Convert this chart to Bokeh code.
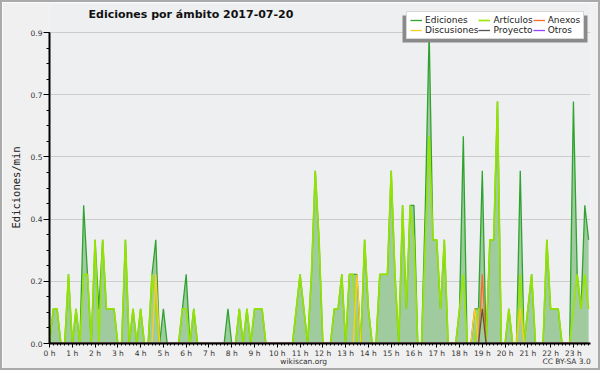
import math
from bokeh.plotting import figure
from bokeh.layouts import column
from bokeh.models import (FixedTicker, PrintfTickFormatter, Legend, LegendItem,
                          Label, Range1d, BoxAnnotation, LinearAxis, Title)
from bokeh.embed import file_html
from bokeh.resources import INLINE

# one value per 10-minute slot (edits per minute), 00:00 .. 23:40
ediciones = [
    0, 0.1, 0.1, 0, 0, 0.2,        # 0 h
    0, 0.1, 0, 0.4, 0.2, 0,        # 1 h
    0.3, 0.1, 0.3, 0.1, 0.1, 0.1,  # 2 h
    0, 0, 0.3, 0, 0.1, 0,          # 3 h
    0.1, 0, 0, 0.2, 0.3, 0,        # 4 h
    0.1, 0, 0, 0, 0, 0.1,          # 5 h
    0.2, 0, 0.1, 0, 0, 0,          # 6 h
    0, 0, 0, 0, 0, 0.1,            # 7 h
    0, 0, 0.1, 0, 0.1, 0,          # 8 h
    0.1, 0.1, 0.1, 0, 0, 0,        # 9 h
    0, 0, 0, 0, 0, 0.1,            # 10 h
    0.2, 0.1, 0, 0.2, 0.5, 0.3,    # 11 h
    0, 0, 0, 0.1, 0.1, 0.2,        # 12 h
    0, 0.2, 0.2, 0.2, 0, 0.3,      # 13 h
    0.1, 0, 0, 0.2, 0.2, 0.2,      # 14 h
    0.5, 0.2, 0, 0.4, 0.1, 0.4,    # 15 h
    0.4, 0, 0, 0.4, 0.9, 0.3,      # 16 h
    0.3, 0.1, 0.3, 0, 0, 0,        # 17 h
    0.1, 0.6, 0, 0, 0.1, 0.1,      # 18 h
    0.5, 0, 0.3, 0.3, 0.7, 0,      # 19 h
    0, 0.1, 0, 0, 0.5, 0,          # 20 h
    0.1, 0.2, 0, 0, 0, 0.3,        # 21 h
    0.1, 0.1, 0.1, 0, 0, 0,        # 22 h
    0.7, 0.2, 0.1, 0.4, 0.3,       # 23 h
]
articulos = [
    0, 0.1, 0.1, 0, 0, 0.2,
    0, 0.1, 0, 0.2, 0.2, 0,
    0.3, 0, 0.3, 0.1, 0.1, 0.1,
    0, 0, 0.3, 0, 0.1, 0,
    0.1, 0, 0, 0.2, 0.1, 0,
    0, 0, 0, 0, 0, 0.1,
    0.1, 0, 0.1, 0, 0, 0,
    0, 0, 0, 0, 0, 0,
    0, 0, 0.1, 0, 0.1, 0,
    0.1, 0.1, 0.1, 0, 0, 0,
    0, 0, 0, 0, 0, 0.1,
    0.2, 0.1, 0, 0.2, 0.5, 0.3,
    0, 0, 0, 0.1, 0.1, 0.2,
    0, 0.2, 0.2, 0, 0, 0.3,
    0.1, 0, 0, 0.2, 0.2, 0.2,
    0.5, 0.2, 0, 0.4, 0.1, 0.4,
    0.3, 0, 0, 0.3, 0.6, 0.3,
    0.3, 0.1, 0.3, 0, 0, 0,
    0.1, 0.2, 0, 0, 0, 0.1,
    0.1, 0, 0.3, 0.3, 0.7, 0,
    0, 0.1, 0, 0, 0.2, 0,
    0.1, 0.2, 0, 0, 0, 0.3,
    0.1, 0.1, 0.1, 0, 0, 0,
    0.1, 0.2, 0.1, 0.2, 0.1,
]
discusiones = [
    0, 0, 0, 0, 0, 0,  0, 0, 0, 0, 0, 0,  0, 0, 0, 0, 0, 0,  0, 0, 0, 0, 0, 0,
    0, 0, 0, 0, 0.2, 0,  0, 0, 0, 0, 0, 0,  0, 0, 0, 0, 0, 0,  0, 0, 0, 0, 0, 0,
    0, 0, 0, 0, 0, 0,  0, 0, 0, 0, 0, 0,  0, 0, 0, 0, 0, 0,  0, 0, 0, 0, 0, 0,
    0, 0, 0, 0, 0, 0,  0, 0, 0, 0.2, 0, 0,  0, 0, 0, 0, 0, 0,  0, 0, 0, 0, 0, 0,
    0, 0, 0, 0, 0, 0,  0, 0, 0, 0, 0, 0,  0, 0, 0, 0, 0.1, 0,  0.1, 0, 0, 0, 0, 0,
    0, 0, 0, 0, 0.1, 0,  0, 0, 0, 0, 0, 0,  0, 0, 0, 0, 0, 0,  0, 0, 0, 0, 0,
]
anexos = [
    0, 0, 0, 0, 0, 0,  0, 0, 0, 0, 0, 0,  0, 0, 0, 0, 0, 0,  0, 0, 0, 0, 0, 0,
    0, 0, 0, 0, 0, 0,  0, 0, 0, 0, 0, 0,  0, 0, 0, 0, 0, 0,  0, 0, 0, 0, 0, 0,
    0, 0, 0, 0, 0, 0,  0, 0, 0, 0, 0, 0,  0, 0, 0, 0, 0, 0,  0, 0, 0, 0, 0, 0,
    0, 0, 0, 0, 0, 0,  0, 0, 0, 0, 0, 0,  0, 0, 0, 0, 0, 0,  0, 0, 0, 0, 0, 0,
    0, 0, 0, 0, 0, 0,  0, 0, 0, 0, 0, 0,  0, 0, 0, 0, 0, 0,  0.2, 0, 0, 0, 0, 0,
    0, 0, 0, 0, 0, 0,  0, 0, 0, 0, 0, 0,  0, 0, 0, 0, 0, 0,  0, 0, 0, 0, 0,
]
proyecto = [
    0, 0, 0, 0, 0, 0,  0, 0, 0, 0, 0, 0,  0, 0, 0, 0, 0, 0,  0, 0, 0, 0, 0, 0,
    0, 0, 0, 0, 0, 0,  0, 0, 0, 0, 0, 0,  0, 0, 0, 0, 0, 0,  0, 0, 0, 0, 0, 0,
    0, 0, 0, 0, 0, 0,  0, 0, 0, 0, 0, 0,  0, 0, 0, 0, 0, 0,  0, 0, 0, 0, 0, 0,
    0, 0, 0, 0, 0, 0,  0, 0, 0, 0, 0, 0,  0, 0, 0, 0, 0, 0,  0, 0, 0, 0, 0, 0,
    0, 0, 0, 0, 0, 0,  0, 0, 0, 0, 0, 0,  0, 0, 0, 0, 0, 0,  0.1, 0, 0, 0, 0, 0,
    0, 0, 0, 0, 0, 0,  0, 0, 0, 0, 0, 0,  0, 0, 0, 0, 0, 0,  0, 0, 0, 0, 0,
]
otros = [
    0, 0, 0, 0, 0, 0,  0, 0, 0, 0, 0, 0,  0, 0, 0, 0, 0, 0,  0, 0, 0, 0, 0, 0,
    0, 0, 0, 0, 0, 0,  0, 0, 0, 0, 0, 0,  0, 0, 0, 0, 0, 0,  0, 0, 0, 0, 0, 0,
    0, 0, 0, 0, 0, 0,  0, 0, 0, 0, 0, 0,  0, 0, 0, 0, 0, 0,  0, 0, 0, 0, 0, 0,
    0, 0, 0, 0, 0, 0,  0, 0, 0, 0, 0, 0,  0, 0, 0, 0, 0, 0,  0, 0, 0, 0, 0, 0,
    0, 0, 0, 0, 0, 0,  0, 0, 0, 0, 0, 0,  0, 0, 0, 0, 0, 0,  0, 0, 0, 0, 0, 0,
    0, 0, 0, 0, 0, 0,  0, 0, 0, 0, 0, 0,  0, 0, 0, 0, 0, 0,  0, 0, 0, 0, 0,
]
hour_ticks = list(range(24))
hour_labels = [f"{h} h" for h in hour_ticks]
y_ticks = [0, 0.18, 0.36, 0.54, 0.72, 0.9]

title_text = "Ediciones por ámbito  2017-07-20"
y_title = "Ediciones/min"
site_text = "wikiscan.org"
license_text = "CC BY-SA 3.0"
series_names = ["Ediciones", "Discusiones", "Artículos", "Proyecto", "Anexos", "Otros"]

hours = [i / 6 for i in range(len(ediciones))]

FONT = "DejaVu Sans"
Y_MAX = 0.9
Y_TOP = Y_MAX * 340 / 311   # extra head-room inside the frame for title/legend

p = figure(width=596, height=366, output_backend="svg", toolbar_location=None,
           x_range=Range1d(0, 23.75), y_range=Range1d(0, Y_TOP),
           min_border_left=44, min_border_right=8, min_border_top=1,
           min_border_bottom=25)
p.background_fill_color = "#eeeff1"
p.border_fill_color = "#f0f0f0"
p.outline_line_color = None

# area + lines
p.varea(x=hours, y1=0, y2=ediciones, fill_color="#9fcb9f", fill_alpha=1.0)
r_ed = p.line(hours, ediciones, line_color="#2fa32f", line_width=1.3)
r_art = p.line(hours, articulos, line_color="#99e600", line_width=1.7, line_alpha=0.95)
r_dis = p.line(hours, discusiones, line_color="#ffcc22", line_width=1.3)
r_anx = p.line(hours, anexos, line_color="#ff6a2a", line_width=1.3)
r_pro = p.line(hours, proyecto, line_color="#555555", line_width=1.3)
r_otr = p.line(hours, otros, line_color="#9a40ff", line_width=1.3)

# main axes
xax = p.xaxis[0]
xax.ticker = FixedTicker(ticks=hour_ticks, minor_ticks=[i / 6 for i in range(143)])
xax.major_label_overrides = {h: lab for h, lab in zip(hour_ticks, hour_labels)}
yax = p.yaxis[0]
yax.ticker = FixedTicker(ticks=y_ticks, minor_ticks=[0.045 * k for k in range(21)])
yax.formatter = PrintfTickFormatter(format="%.1f")
yax.bounds = (0, Y_MAX)
for ax in (xax, yax):
    ax.axis_line_color = "black"
    ax.axis_line_width = 2
    ax.major_tick_line_color = "black"
    ax.minor_tick_line_color = "black"
    ax.major_tick_in = 0
    ax.minor_tick_in = 0
    ax.major_label_text_font = FONT
    ax.major_label_text_font_size = "7.5px"
    ax.major_label_text_color = "#333333"
xax.major_tick_out = 4
xax.minor_tick_out = 2
xax.major_label_standoff = 1
yax.major_tick_out = 6
yax.minor_tick_out = 3
yax.major_label_standoff = 1
p.xgrid.visible = False
p.ygrid.grid_line_color = "#cccccc"
p.ygrid.grid_line_width = 1

# y title (vertical title in the left panel)
p.add_layout(Title(text=y_title, align="left", offset=115, standoff=11,
                   text_font="DejaVu Sans Mono", text_font_size="10.5px",
                   text_font_style="normal", text_color="#222222"), "left")

# footer texts as a label-only axis
foot_pos = [11.16, 22.7]
xt = LinearAxis(ticker=FixedTicker(ticks=foot_pos),
                major_label_overrides={foot_pos[0]: site_text, foot_pos[1]: license_text},
                axis_line_color=None, major_tick_line_color=None,
                minor_tick_line_color=None, major_tick_out=0, major_tick_in=0,
                minor_tick_out=0, minor_tick_in=0, major_label_standoff=-4,
                major_label_text_font=FONT, major_label_text_font_size="7.5px",
                major_label_text_color="#333333")
p.add_layout(xt, "below")

# title
p.add_layout(Label(x=39, y=329, x_units="screen", y_units="screen", text=title_text,
                   text_font=FONT, text_font_size="11px", text_font_style="bold",
                   text_baseline="middle", text_align="left", text_color="#111111"))

# legend shadow + legend
p.add_layout(BoxAnnotation(left=353, right=538, bottom=301, top=328,
                           left_units="screen", right_units="screen",
                           bottom_units="screen", top_units="screen",
                           fill_color="#8a8a8a", fill_alpha=1.0, line_color=None))
renderers = [r_ed, r_dis, r_art, r_pro, r_anx, r_otr]
legend = Legend(items=[LegendItem(label=n, renderers=[r]) for n, r in zip(series_names, renderers)],
                location=(357, 304), orientation="vertical", nrows=2,
                label_text_font=FONT, label_text_font_size="9px", label_text_color="#222222",
                label_height=10, glyph_height=10, glyph_width=12, label_standoff=3,
                spacing=0, padding=3, margin=0,
                border_line_color="#b0b0b0", border_line_width=1,
                background_fill_color="white", background_fill_alpha=1.0)
p.add_layout(legend, "center")

layout = column(p, styles={"border": "2px solid #aaaaaa"})
open("out.html", "w").write(file_html(layout, INLINE))
